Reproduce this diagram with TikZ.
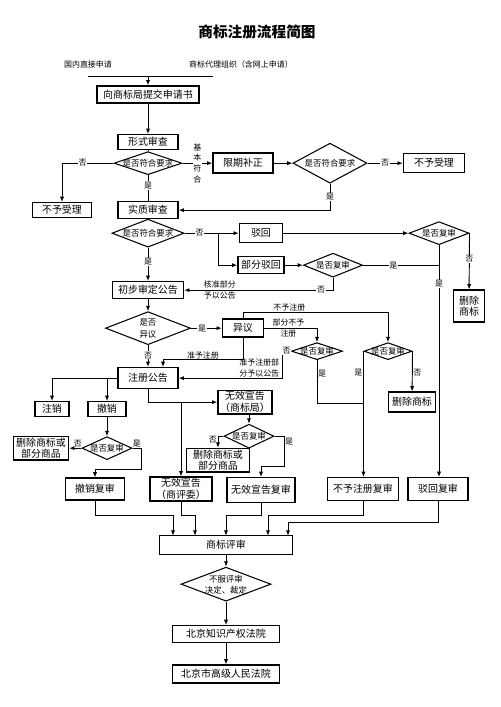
\documentclass[tikz,border=0pt]{standalone}
\usepackage{fontspec}
\setmainfont{Noto Sans CJK SC}
\usetikzlibrary{positioning,shapes.geometric,arrows.meta}

\newcommand{\boxfont}{\fontsize{8.5}{10.2}\selectfont}
\newcommand{\diafont}{\fontsize{7.2}{8.8}\selectfont}
\newcommand{\labfont}{\fontsize{6.8}{9.6}\selectfont}
\newcommand{\titlefont}{\fontsize{12.5}{14}\selectfont\bfseries}
% text of a diamond, kept out of its size
\newcommand{\dtext}[1]{\makebox[0pt]{\raisebox{-0.5\height}[0pt][0pt]{\shortstack{#1}}}}

\begin{document}
\begin{tikzpicture}
    \tikzstyle{block} = [rectangle, draw, line width=1.2pt, inner sep=1pt,
        align=center, font=\boxfont, minimum height=0.51cm]
    \tikzstyle{decision} = [diamond, draw, line width=0.9pt, inner sep=0pt, font=\diafont]
    \tikzstyle{line} = [draw, line width=0.8pt]
    \tikzstyle{flow} = [draw, line width=0.8pt, -{Latex[length=4.5pt,width=3.6pt]}]
    \tikzstyle{lab} = [fill=white, inner sep=0.6pt, font=\labfont]
    \tikzstyle{note} = [inner sep=0.6pt, align=center, font=\labfont]

    \useasboundingbox (-4.44,2.835) rectangle (10.56,-18.375);

    \node [block, minimum width=3.06cm] (submit) {向商标局提交申请书};
    \node [font=\titlefont, above of=submit, node distance=1.875cm, xshift=3.27cm] (title) {商标注册流程简图};
    \node [font=\labfont, above of=submit, node distance=0.915cm, xshift=-1.8cm] (direct) {国内直接申请};
    \node [font=\labfont, above of=submit, node distance=0.915cm, xshift=2.79cm] (agent) {商标代理组织（含网上申请）};
    \coordinate [above of=submit, node distance=0.555cm, xshift=-1.8cm] (inleft);
    \coordinate [above of=submit, node distance=0.555cm, xshift=1.95cm] (inright);
    \coordinate [above of=submit, node distance=0.555cm] (inmid);
    \path [line] (inleft) -- (inright);
    \path [flow] (inmid) -- (submit);
    %
    \node [block, below of=submit, node distance=1.43cm, minimum width=1.8cm, minimum height=0.45cm] (form) {形式审查};
    \node [decision, below of=form, node distance=0.63cm, minimum width=2.04cm, minimum height=0.69cm] (d1) {\dtext{是否符合要求}};
    \node [block, below of=d1, node distance=1.41cm, minimum width=1.8cm] (subst) {实质审查};
    \node [block, left of=subst, node distance=2.58cm, minimum width=1.77cm, minimum height=0.45cm] (reject1) {不予受理};
    \node [block, right of=d1, node distance=2.85cm, minimum width=1.8cm, minimum height=0.6cm] (corr) {限期补正};
    \node [decision, right of=corr, node distance=2.61cm, minimum width=2.22cm, minimum height=1.2cm] (d2) {\dtext{是否符合要求}};
    \node [block, right of=d2, node distance=3.12cm, minimum width=1.83cm, minimum height=0.57cm] (reject2) {不予受理};
    \path [flow] (submit) -- (form);
    \path [line] (form) -- (d1);
    \path [flow] (d1.west) -- node [lab, pos=0.6] {否} (d1.west -| reject1) -- (reject1);
    \path [flow] (d1.east) -- node [lab] {\shortstack{基\\本\\符\\合}} (corr);
    \path [line] (d1) -- node [lab, pos=0.4] {是} (subst);
    \path [flow] (corr) -- (d2);
    \path [flow] (d2) -- node [lab] {否} (reject2);
    \path [flow] (d2.south) -- node [lab] {是} (d2.south |- subst) -- (subst);
    %
    \node [decision, below of=subst, node distance=0.69cm, minimum width=2.16cm, minimum height=0.84cm] (d3) {\dtext{是否符合要求}};
    \node [block, below of=d3, node distance=1.71cm, minimum width=2.13cm] (prelim) {初步审定公告};
    \coordinate [right of=d3, node distance=2.1cm] (split);
    \node [block, right of=d3, node distance=3.39cm, minimum width=1.29cm, minimum height=0.57cm] (rej) {驳回};
    \node [block, below of=rej, node distance=0.96cm, minimum width=1.38cm] (prej) {部分驳回};
    \node [decision, right of=rej, node distance=5.34cm, minimum width=1.8cm, minimum height=0.69cm] (d4) {\dtext{是否复审}};
    \node [decision, right of=prej, node distance=2.16cm, minimum width=1.77cm, minimum height=0.72cm] (d5) {\dtext{是否复审}};
    \node [block, below of=d4, node distance=2.19cm, xshift=0.9cm, minimum width=0.93cm, minimum height=0.96cm] (delmark1) {删除\\商标};
    \path [line] (subst) -- (d3);
    \path [flow] (d3) -- node [lab, pos=0.28] {否} (rej);
    \path [flow] (split) |- (prej.west);
    \path [flow] (d3) -- node [lab, pos=0.43] {是} (prelim);
    \path [flow] (rej) -- (d4);
    \path [flow] (d4.east) -- node [lab, pos=0.46] {否} (delmark1);
    \path [flow] (prej) -- (d5);
    \path [line] (d5.east) -- node [lab, pos=0.4] {是} (d5 -| d4.south);
    \path [flow] (d5.south) |- node [lab, pos=0.54] {否} node [note, pos=0.88] {核准部分\\予以公告} (prelim.east);
    %
    \node [decision, below of=prelim, node distance=1.14cm, minimum width=2.55cm, minimum height=0.99cm] (d6) {\dtext{是否\\异议}};
    \node [block, below of=d6, node distance=1.5cm, minimum width=1.8cm, minimum height=0.63cm] (reg) {注册公告};
    \node [block, right of=d6, node distance=2.85cm, minimum width=1.23cm, minimum height=0.54cm] (opp) {异议};
    \node [decision, below of=opp, node distance=0.69cm, xshift=2.22cm, minimum width=1.53cm, minimum height=0.51cm] (d7) {\dtext{是否复审}};
    \node [decision, right of=d7, node distance=2.13cm, minimum width=1.44cm, minimum height=0.51cm] (d8) {\dtext{是否复审}};
    \node [block, below of=d8, node distance=1.53cm, xshift=0.72cm, minimum width=1.41cm, minimum height=0.6cm] (delmark2) {删除商标};
    \coordinate [above of=opp, node distance=0.48cm] (oppup);
    \coordinate [below of=opp, node distance=0.93cm] (oppdn);
    \coordinate [right of=reg, node distance=0.45cm] (regx);
    \coordinate [left of=d7, node distance=1.05cm] (d7l);
    \coordinate [below of=d7, node distance=1.56cm] (d7dn);
    \path [flow] (prelim) -- (d6);
    \path [flow] (d6) -- node [lab, pos=0.36] {是} (opp);
    \path [flow] (d6) -- node [lab, pos=0.46] {否} (reg);
    \path [flow] (opp.north) -- (oppup) -| node [note, above, pos=0.16] {不予注册} (d8.north);
    \path [flow] (opp.east) -| node [note, pos=0.23] {部分不予\\注册} (d7.north);
    \path [flow] (opp.south) -- (oppdn) -| node [note, above, inner sep=0pt, pos=0.25] {准予注册} (regx |- reg.north);
    \path [flow] (d7.west) -- node [lab] {否} (d7l) |- node [note, above, pos=0.61] {准予注册部\\分予以公告} (reg.east);
    \path [line] (d7.south) -- node [note, right, pos=0.31] {是} (d7dn) -- (d7dn -| d8.west);
    \path [flow] (d8.east) -- node [note, right, pos=0.54] {否} (delmark2);
    %
    \node [block, below of=reg, node distance=0.93cm, xshift=-2.88cm, minimum width=1.02cm, minimum height=0.45cm] (cancel) {注销};
    \node [block, right of=cancel, node distance=1.65cm, minimum width=1.14cm, minimum height=0.45cm] (revoke) {撤销};
    \node [block, below of=reg, node distance=0.72cm, xshift=2.91cm, minimum width=1.62cm, minimum height=0.69cm] (invb) {无效宣告\\（商标局）};
    \node [decision, below of=revoke, node distance=1.17cm, minimum width=1.5cm, minimum height=0.69cm] (d9) {\dtext{是否复审}};
    \node [block, left of=d9, node distance=1.98cm, minimum width=1.65cm, minimum height=0.69cm] (delg1) {删除商标或\\部分商品};
    \node [block, below of=d9, node distance=1.23cm, xshift=-0.36cm, minimum width=1.77cm, minimum height=0.66cm] (revrev) {撤销复审};
    \node [decision, below of=invb, node distance=1.02cm, xshift=0.12cm, minimum width=1.5cm, minimum height=0.72cm] (d10) {\dtext{是否复审}};
    \node [block, below of=d10, node distance=0.72cm, xshift=-0.93cm, minimum width=1.89cm, minimum height=0.63cm] (delg2) {删除商标或\\部分商品};
    \node [block, below of=d10, node distance=1.62cm, xshift=0.36cm, minimum width=2.04cm, minimum height=0.75cm] (invr) {无效宣告复审};
    \node [block, right of=revrev, node distance=2.58cm, minimum width=1.86cm, minimum height=0.72cm] (invc) {无效宣告\\（商评委）};
    \node [block, right of=revrev, node distance=8.04cm, minimum width=2.13cm, minimum height=0.69cm] (refrev) {不予注册复审};
    \node [block, right of=revrev, node distance=10.29cm, minimum width=1.8cm, minimum height=0.69cm] (rejrev) {驳回复审};
    \coordinate [right of=d9, node distance=1.02cm] (d9r);
    \coordinate [below of=d9r, node distance=0.63cm] (d9rd);
    \coordinate [right of=d10, node distance=1.05cm] (d10r);
    \coordinate [below of=d10r, node distance=0.9cm] (d10rd);
    \path [flow] (d4.south) -- node [lab, pos=0.167] {是} (d4.south |- rejrev.north);
    \path [flow] (d8.west) -- node [note, left, pos=0.17] {是} (d8.west |- refrev.north);
    \path [flow] (reg.west) -| (cancel);
    \path [flow] (reg.west -| revoke) -- (revoke);
    \path [flow] (reg) |- (invb);
    \path [flow] (invb.west -| invc) -- (invc);
    \path [flow] (revoke) -- (d9);
    \path [flow] (d9) -- node [note, above, pos=0.3] {否} (delg1);
    \path [flow] (d9.east) -- node [note, above] {是} (d9r) -- (d9rd) -| (revrev);
    \path [flow] (d10 |- invb.south) -- (d10);
    \path [flow] (d10.west) -| node [note, left, pos=0.64] {否} (delg2);
    \path [flow] (d10.east) -- (d10r) -- node [note, right, pos=0.17] {是} (d10rd) -| (invr);
    %
    \node [block, below of=invr, node distance=1.65cm, xshift=-1.05cm, minimum width=3.99cm, minimum height=0.57cm] (review) {商标评审};
    \node [decision, below of=review, node distance=1.17cm, minimum width=2.7cm, minimum height=1.02cm] (d11) {\dtext{不服评审\\决定、裁定}};
    \node [block, below of=d11, node distance=1.5cm, minimum width=3.21cm] (court1) {北京知识产权法院};
    \node [block, below of=court1, node distance=1.2cm, minimum width=3.21cm, minimum height=0.54cm] (court2) {北京市高级人民法院};
    \coordinate [above of=review, node distance=0.9cm] (mrg);
    \coordinate [above of=review, node distance=0.69cm] (mrg2);
    \coordinate [above of=review, node distance=0.285cm, xshift=-1.59cm] (in1);
    \coordinate [above of=review, node distance=0.285cm, xshift=-0.93cm] (in2);
    \coordinate [above of=review, node distance=0.285cm] (in3);
    \coordinate [above of=review, node distance=0.285cm, xshift=1.26cm] (in4);
    \coordinate [above of=review, node distance=0.285cm, xshift=1.86cm] (in5);
    \path [flow] (revrev) -- (revrev |- mrg) -| (in1);
    \path [flow] (invc) -- (invc |- mrg) -| (in2);
    \path [flow] (invr) -- (invr |- mrg) -| (in3);
    \path [flow] (refrev) -- (refrev |- mrg) -| (in4);
    \path [flow] (rejrev) -- (rejrev |- mrg2) -| (in5);
    \path [flow] (review) -- (d11);
    \path [flow] (d11) -- (court1);
    \path [flow] (court1) -- (court2);

\end{tikzpicture}
\end{document}
